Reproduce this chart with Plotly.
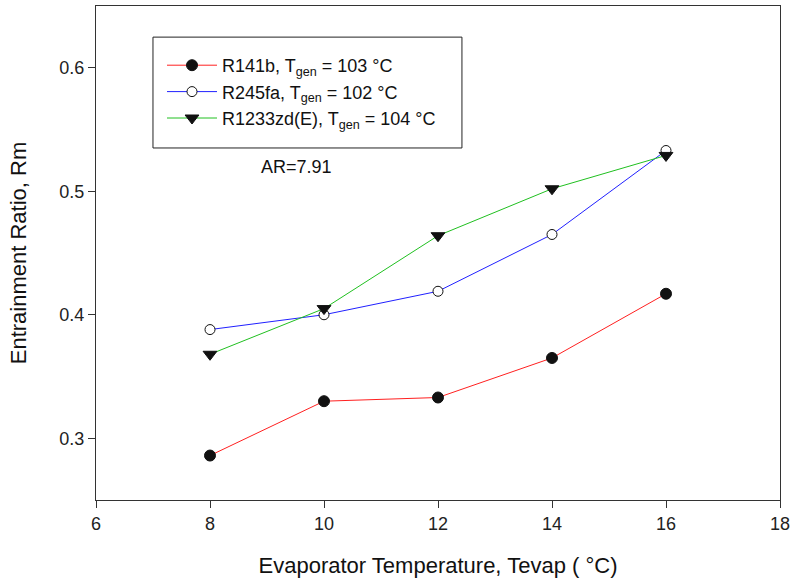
import plotly.graph_objects as go

x_vals = [8, 10, 12, 14, 16]
r141b = [0.286, 0.330, 0.333, 0.365, 0.417]
r245fa = [0.388, 0.400, 0.419, 0.465, 0.533]
r1233zd = [0.368, 0.405, 0.464, 0.502, 0.529]

names = [
    "R141b, T<sub>gen</sub> = 103 °C",
    "R245fa, T<sub>gen</sub> = 102 °C",
    "R1233zd(E), T<sub>gen</sub> = 104 °C",
]
x_ticks = [6, 8, 10, 12, 14, 16, 18]
y_ticks = [0.3, 0.4, 0.5, 0.6]

FONT = "Liberation Sans, Arial, sans-serif"

fig = go.Figure()
fig.add_trace(go.Scatter(
    x=x_vals, y=r141b, mode="lines+markers", name=names[0],
    line=dict(color="#ff2020", width=1),
    marker=dict(symbol="circle", size=11, color="#111111", line=dict(color="#111111", width=1)),
))
fig.add_trace(go.Scatter(
    x=x_vals, y=r245fa, mode="lines+markers", name=names[1],
    line=dict(color="#2020ff", width=1),
    marker=dict(symbol="circle", size=10, color="white", line=dict(color="#111111", width=1)),
))
fig.add_trace(go.Scatter(
    x=x_vals, y=r1233zd, mode="lines+markers", name=names[2],
    line=dict(color="#20c020", width=1),
    marker=dict(symbol="triangle-down", size=12, color="#111111", line=dict(color="#111111", width=1)),
))

fig.add_annotation(
    x=9.52, y=0.5195, xref="x", yref="y", text="AR=7.91", showarrow=False,
    font=dict(family=FONT, size=18, color="#111111"),
)

# legend frame
fig.add_shape(
    type="rect", xref="paper", yref="paper",
    x0=0.0833, x1=0.535, y0=0.7126, y1=0.937,
    line=dict(color="#222222", width=1), fillcolor="white", layer="below",
)

axis_common = dict(
    showgrid=False, zeroline=False, showline=True, linecolor="#333333", linewidth=1,
    mirror=True, ticks="outside", ticklen=7, tickcolor="#333333", automargin=False,
    tickfont=dict(family=FONT, size=18, color="#222222"),
)

fig.update_xaxes(
    range=[6, 18], tickvals=x_ticks, ticktext=[str(v) for v in x_ticks],
    title=dict(text="Evaporator Temperature, Tevap ( °C)", standoff=25,
               font=dict(family=FONT, size=22, color="#111111")),
    **axis_common,
)
fig.update_yaxes(
    range=[0.25, 0.65], tickvals=y_ticks, ticktext=[f"{v:.1f}" for v in y_ticks],
    title=dict(text="Entrainment Ratio, Rm", standoff=26,
               font=dict(family=FONT, size=22, color="#111111")),
    **axis_common,
)

fig.update_layout(
    width=792, height=583,
    margin=dict(l=96, r=12, t=6, b=83),
    plot_bgcolor="white", paper_bgcolor="white",
    font=dict(family=FONT, size=18, color="#111111"),
    legend=dict(
        x=0.0965, y=0.917, xanchor="left", yanchor="top",
        borderwidth=0, bgcolor="rgba(0,0,0,0)",
        font=dict(family=FONT, size=18, color="#111111"),
        tracegroupgap=0, itemwidth=50,
    ),
)

fig.write_html(
    "out.html",
    config={"displayModeBar": False},
    post_script="document.body.style.margin='0';document.body.style.overflow='hidden';",
)
